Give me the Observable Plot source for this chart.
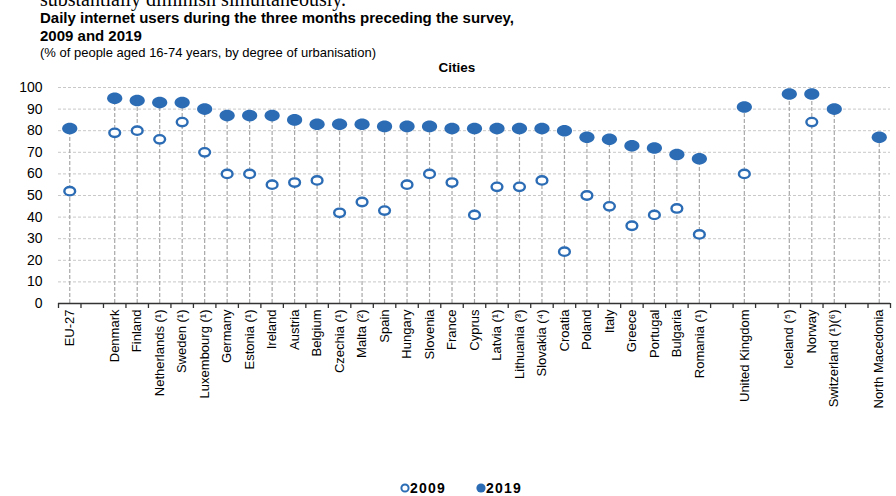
<!DOCTYPE html>
<html><head><meta charset="utf-8">
<script src="https://cdn.jsdelivr.net/npm/d3@7"></script>
<script src="https://cdn.jsdelivr.net/npm/@observablehq/plot@0.6"></script>
<style>
body{margin:0;width:896px;height:496px;position:relative;overflow:hidden;background:#fff;font-family:"Liberation Sans",Arial,sans-serif;color:#000;}
.t{position:absolute;white-space:nowrap;line-height:1;z-index:2;}
</style></head><body>
<div class="t" style="left:40px;top:-11px;font-family:'Liberation Serif',serif;font-size:20px;">substantially diminish simultaneously.</div>
<div class="t" style="left:40px;top:10px;font-weight:bold;font-size:15px;">Daily internet users during the three months preceding the survey,</div>
<div class="t" style="left:40px;top:28px;font-weight:bold;font-size:15px;">2009 and 2019</div>
<div class="t" style="left:40px;top:46px;font-size:13px;">(% of people aged 16-74 years, by degree of urbanisation)</div>
<div class="t" style="left:0;width:914px;text-align:center;top:61px;font-weight:bold;font-size:13.5px;">Cities</div>
<div id="chart" style="position:absolute;left:0;top:72px;z-index:1;"></div>
<div class="t" id="legend" style="left:0;width:922px;height:14px;text-align:center;top:481px;font-weight:bold;font-size:14px;letter-spacing:1.2px;">
<svg width="10" height="10" style="vertical-align:0px"><circle cx="5" cy="5" r="3.6" fill="#fff" stroke="#2b6cb5" stroke-width="2"/></svg>2009
<span style="display:inline-block;width:20px"></span>
<svg width="10" height="10" style="vertical-align:0px"><circle cx="5" cy="5" r="4.6" fill="#2b6cb5"/></svg>2019
</div>
<script>
const slots = ["EU-27","gap1","Denmark","Finland","Netherlands (¹)","Sweden (¹)","Luxembourg (¹)","Germany","Estonia (¹)","Ireland","Austria","Belgium","Czechia (¹)","Malta (²)","Spain","Hungary","Slovenia","France","Cyprus","Latvia (¹)","Lithuania (³)","Slovakia (⁴)","Croatia","Poland","Italy","Greece","Portugal","Bulgaria","Romania (¹)","gap2","United Kingdom","gap3","Iceland (⁵)","Norway","Switzerland (¹)(⁶)","gap4","North Macedonia"];
const countries = ["EU-27","Denmark","Finland","Netherlands (¹)","Sweden (¹)","Luxembourg (¹)","Germany","Estonia (¹)","Ireland","Austria","Belgium","Czechia (¹)","Malta (²)","Spain","Hungary","Slovenia","France","Cyprus","Latvia (¹)","Lithuania (³)","Slovakia (⁴)","Croatia","Poland","Italy","Greece","Portugal","Bulgaria","Romania (¹)","United Kingdom","Iceland (⁵)","Norway","Switzerland (¹)(⁶)","North Macedonia"];
const values2009 = [52,79,80,76,84,70,60,60,55,56,57,42,47,43,55,60,56,41,54,54,57,24,50,45,36,41,44,32,60,null,84,null,null];
const values2019 = [81,95,94,93,93,90,87,87,87,85,83,83,83,82,82,82,81,81,81,81,81,80,77,76,73,72,69,67,91,97,97,90,77];
const yTicks = [0,10,20,30,40,50,60,70,80,90,100];

const data = countries.map((c,i)=>({country:c, v2009:values2009[i], v2019:values2019[i]}));
const d09 = data.filter(d=>d.v2009!=null);
const blue = "#2b6cb5";
const W = 896, ML = 58, MR = 6;
const bw = (W-ML-MR)/slots.length;
function ellipse(rx, ry){
  const k = 0.5523;
  return {draw(ctx){
    ctx.moveTo(rx,0);
    ctx.bezierCurveTo(rx,ry*k,rx*k,ry,0,ry);
    ctx.bezierCurveTo(-rx*k,ry,-rx,ry*k,-rx,0);
    ctx.bezierCurveTo(-rx,-ry*k,-rx*k,-ry,0,-ry);
    ctx.bezierCurveTo(rx*k,-ry,rx,-ry*k,rx,0);
    ctx.closePath();
  }};
}
const chart = Plot.plot({
  width: W, height: 343,
  marginLeft: ML, marginRight: MR, marginTop: 15, marginBottom: 112,
  style: {fontFamily: "'Liberation Sans', Arial, sans-serif", color: "#000", background: "transparent"},
  x: {type: "band", domain: slots, padding: 0, round: false, axis: null},
  y: {domain: [0,100], axis: null},
  marks: [
    Plot.gridY(yTicks.filter(t=>t>0), {stroke: "#c8c8c8", strokeOpacity: 1, strokeDasharray: "3,2"}),
    Plot.ruleX(data, {x: "country", y1: 0, y2: "v2019", stroke: "#a8a8a8", strokeWidth: 1.2, strokeDasharray: "4,2"}),
    Plot.ruleY([0], {stroke: "#333", strokeWidth: 1.6}),
    Plot.ruleX(slots, {x: d=>d, y1: 0, y2: 0, insetBottom: -5, dx: -bw/2, stroke: "#333", strokeWidth: 1.3}),
    Plot.ruleX([slots[slots.length-1]], {x: d=>d, y1: 0, y2: 0, insetBottom: -5, dx: bw/2, stroke: "#333", strokeWidth: 1.3}),
    Plot.axisY({ticks: yTicks, tickSize: 0, tickPadding: 16, fontSize: 14, label: null}),
    Plot.axisX({tickSize: 0, tickRotate: -90, tickPadding: 6, fontSize: 13, label: null, tickFormat: d => d.startsWith("gap") ? "" : d}),
    Plot.dot(data, {x: "country", y: "v2019", symbol: ellipse(7.6,5.8), fill: blue, stroke: "none"}),
    Plot.dot(d09, {x: "country", y: "v2009", symbol: ellipse(5.4,4.2), fill: "#fff", stroke: blue, strokeWidth: 2.4})
  ]
});
document.getElementById("chart").appendChild(chart);
</script>
</body></html>
